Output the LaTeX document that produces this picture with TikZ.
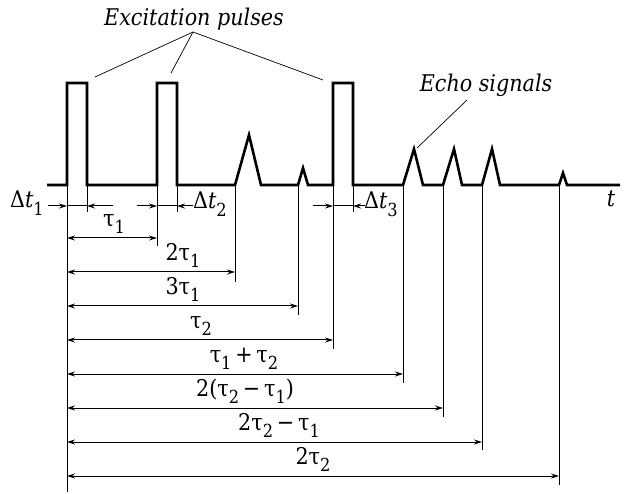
\documentclass[tikz,border=0pt]{standalone}
\usepackage{fontspec}
\setmainfont{DejaVu Serif Condensed}
\usetikzlibrary{arrows.meta}
\newcommand{\lo}[1]{\raisebox{-0.32em}{\fontsize{18}{19}\selectfont #1}}

\begin{document}
\begin{tikzpicture}[
    x=1pt, y=-1pt,
    signal/.style={line width=2.6pt, line join=miter},
    extline/.style={line width=1pt},
    arrow/.style={-{Stealth[length=8pt,width=5pt]}, line width=1pt},
    dimarrow/.style={{Stealth[length=8pt,width=5pt]}-{Stealth[length=8pt,width=5pt]}, line width=1pt},
    lbl/.style={font=\fontsize{23}{26}\selectfont, inner sep=0pt, anchor=base},
    note/.style={font=\fontsize{23}{26}\selectfont\itshape, inner sep=0pt, anchor=base},
    leader/.style={line width=0.7pt}
]
\useasboundingbox (0,0) rectangle (624,494);

% Time marks on the base line
\coordinate (start) at (47,185);
\coordinate (p1a) at (67,185);
\coordinate (p1b) at (87,185);
\coordinate (p2a) at (157,185);
\coordinate (p2b) at (177,185);
\coordinate (e1) at (235,185);
\coordinate (e2) at (298,185);
\coordinate (p3a) at (333,185);
\coordinate (p3b) at (353,185);
\coordinate (e3) at (403,185);
\coordinate (e4) at (443,185);
\coordinate (e5) at (482,185);
\coordinate (e6) at (559,185);
\coordinate (stop) at (620,185);

% Signal
\draw[signal] (start) -- (p1a) -- (67,83) -- (87,83) -- (p1b)
    -- (p2a) -- (157,83) -- (177,83) -- (p2b)
    -- (e1) -- (249,135) -- (261,185)
    -- (e2) -- (303,168) -- (308,185)
    -- (p3a) -- (333,83) -- (353,83) -- (p3b)
    -- (e3) -- (414,149) -- (423,185)
    -- (e4) -- (454,149) -- (462,185)
    -- (e5) -- (492,149) -- (500,185)
    -- (e6) -- (563,173) -- (567,185) -- (stop);
\node[note] (tlabel) at (611,207) {t};

% Extension lines
\foreach \m/\len in {p1a/307, p1b/27, p2a/61, p2b/27, e1/97, e2/130, p3a/164, p3b/27, e3/198, e4/232, e5/265, e6/300}
    \draw[extline] (\m) -- ++(0,\len);

% Pulse widths
\draw[arrow] ([xshift=-19]p1a |- 0,206) -- (p1a |- 0,206);
\draw[extline] (p1a |- 0,206) -- (p1b |- 0,206);
\draw[arrow] ([xshift=26]p1b |- 0,206) -- (p1b |- 0,206);
\node[lbl, anchor=base east] (dt1) at (44,208) {Δ\textit{t}\lo{1}};

\draw[arrow] ([xshift=-20]p2a |- 0,206) -- (p2a |- 0,206);
\draw[extline] (p2a |- 0,206) -- (p2b |- 0,206);
\draw[arrow] ([xshift=16]p2b |- 0,206) -- (p2b |- 0,206);
\node[lbl, anchor=base west] (dt2) at (193,209) {Δ\textit{t}\lo{2}};

\draw[arrow] ([xshift=-20]p3a |- 0,206) -- (p3a |- 0,206);
\draw[extline] (p3a |- 0,206) -- (p3b |- 0,206);
\draw[arrow] ([xshift=12]p3b |- 0,206) -- (p3b |- 0,206);
\node[lbl, anchor=base west] (dt3) at (364,209) {Δ\textit{t}\lo{3}};

% Time intervals
\foreach \m/\y/\lx/\txt in {
    p2a/238/114/{τ\lo{1}},
    e1/272/183/{2τ\lo{1}},
    e2/306/183/{3τ\lo{1}},
    p3a/340/201/{τ\lo{2}},
    e3/374/244/{τ\lo{1}\,+\,τ\lo{2}},
    e4/408/245/{2(τ\lo{2}\,−\,τ\lo{1})},
    e5/442/279/{2τ\lo{2}\,−\,τ\lo{1}},
    e6/476/313/{2τ\lo{2}}}
{
    \draw[dimarrow] (p1a |- 0,\y) -- (\m |- 0,\y);
    \node[lbl] at (\lx,\y-11.5) {\txt};
}

% Notes
\node[note] (exc) at (194,26) {Excitation pulses};
\draw[leader] (193,32) -- (95,77);
\draw[leader] (193,32) -- (171,73);
\draw[leader] (193,32) -- (323,80);

\node[note] (echo) at (486,92) {Echo signals};
\draw[leader] (467,100) -- (417,148);

\end{tikzpicture}
\end{document}
